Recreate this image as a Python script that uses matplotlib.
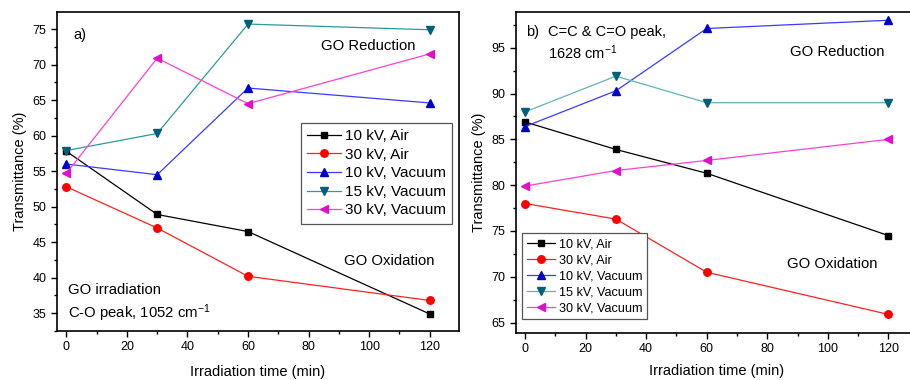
import matplotlib
matplotlib.use("Agg")
import matplotlib.pyplot as plt
from matplotlib.ticker import MultipleLocator

plt.rcParams['font.family'] = ['Liberation Sans', 'DejaVu Sans']
plt.rcParams['mathtext.fontset'] = 'custom'
plt.rcParams['mathtext.rm'] = 'Liberation Sans'
plt.rcParams['mathtext.it'] = 'Liberation Sans'

# ---------------- data ----------------
time = [0, 30, 60, 120]
labels = ["10 kV, Air", "30 kV, Air", "10 kV, Vacuum", "15 kV, Vacuum", "30 kV, Vacuum"]

# panel a) C-O peak 1052 cm-1
a_10kv_air = [57.8, 48.9, 46.5, 34.9]
a_30kv_air = [52.8, 47.0, 40.2, 36.8]
a_10kv_vac = [56.0, 54.5, 66.7, 64.6]
a_15kv_vac = [57.9, 60.3, 75.7, 74.9]
a_30kv_vac = [54.7, 70.9, 64.5, 71.5]

# panel b) C=C & C=O peak 1628 cm-1
b_10kv_air = [86.9, 83.9, 81.3, 74.5]
b_30kv_air = [78.0, 76.3, 70.5, 65.9]
b_10kv_vac = [86.4, 90.3, 97.1, 98.0]
b_15kv_vac = [88.0, 91.9, 89.0, 89.0]
b_30kv_vac = [79.9, 81.6, 82.7, 85.0]

line_colors = ['#000000', '#ff2020', '#3a3aff', '#2a9a9a', '#ff40d0']
marker_colors = ['#000000', '#ff0000', '#0000c8', '#00607a', '#e010c8']
line_colors_b = ['#000000', '#ff2020', '#3a3aff', '#60b4b4', '#ff40d0']
markers = ['s', 'o', '^', 'v', '<']
msizes = [4.8, 5.4, 5.8, 5.8, 5.8]

W, H = 910, 380
fig = plt.figure(figsize=(W / 100, H / 100), dpi=100)

def px_axes(x0, y0, x1, y1):
    return fig.add_axes([x0 / W, 1 - y1 / H, (x1 - x0) / W, (y1 - y0) / H])

axA = px_axes(57, 12, 459, 331)
axB = px_axes(515.7, 12, 917.7, 332.7)

def style(ax, ylim, ymaj, ymin, xpad):
    ax.set_xlim(-3.1, 129.7)
    ax.set_ylim(*ylim)
    ax.xaxis.set_major_locator(MultipleLocator(20))
    ax.xaxis.set_minor_locator(MultipleLocator(10))
    ax.yaxis.set_major_locator(MultipleLocator(ymaj))
    ax.yaxis.set_minor_locator(MultipleLocator(ymin))
    ax.tick_params(which='both', direction='out', top=False, right=False,
                   labelsize=9, width=1.0)
    ax.tick_params(which='major', length=4)
    ax.tick_params(which='minor', length=2.5)
    for s in ax.spines.values():
        s.set_linewidth(1.2)
    ax.set_xlabel("Irradiation time (min)", fontsize=10.5, labelpad=xpad)
    ax.set_ylabel("Transmittance (%)", fontsize=10.5, labelpad=4)

seriesA = [a_10kv_air, a_30kv_air, a_10kv_vac, a_15kv_vac, a_30kv_vac]
seriesB = [b_10kv_air, b_30kv_air, b_10kv_vac, b_15kv_vac, b_30kv_vac]

for i, ys in enumerate(seriesA):
    axA.plot(time, ys, color=line_colors[i], lw=0.9, marker=markers[i],
             ms=msizes[i], mfc=marker_colors[i], mec=marker_colors[i],
             label=labels[i], clip_on=False)
for i, ys in enumerate(seriesB):
    axB.plot(time, ys, color=line_colors_b[i], lw=0.9, marker=markers[i],
             ms=msizes[i], mfc=marker_colors[i], mec=marker_colors[i],
             label=labels[i], clip_on=False)

style(axA, (32.5, 77.4), 5, 2.5, 8)
style(axB, (63.9, 98.9), 5, 2.5, 6.5)

legA = axA.legend(loc='upper left', bbox_to_anchor=(0.607, 0.652), borderaxespad=0,
                  fontsize=11, fancybox=False, framealpha=1, edgecolor='#555555',
                  handlelength=2.2, handletextpad=0.3, labelspacing=0.3,
                  borderpad=0.4)
legA.get_frame().set_linewidth(0.9)
legB = axB.legend(loc='upper left', bbox_to_anchor=(0.0157, 0.311), borderaxespad=0,
                  fontsize=9.1, fancybox=False, framealpha=1, edgecolor='#555555',
                  handlelength=2.2, handletextpad=0.3, labelspacing=0.32,
                  borderpad=0.4)
legB.get_frame().set_linewidth(0.9)

# annotations panel a
axA.text(0.04, 0.928, "a)", transform=axA.transAxes, fontsize=10.5, va='center', ha='left')
axA.text(0.774, 0.893, "GO Reduction", transform=axA.transAxes, fontsize=10.7, va='center', ha='center')
axA.text(0.826, 0.219, "GO Oxidation", transform=axA.transAxes, fontsize=10.7, va='center', ha='center')
axA.text(0.027, 0.129, "GO irradiation", transform=axA.transAxes, fontsize=10.7, va='center', ha='left')
axA.text(0.027, 0.056, "C-O peak, 1052 cm$^{-1}$", transform=axA.transAxes, fontsize=10.7, va='center', ha='left')

# annotations panel b
axB.text(0.026, 0.938, "b)", transform=axB.transAxes, fontsize=10.5, va='center', ha='left')
axB.text(0.080, 0.938, "C=C & C=O peak,", transform=axB.transAxes, fontsize=10.5, va='center', ha='left')
axB.text(0.080, 0.872, "1628 cm$^{-1}$", transform=axB.transAxes, fontsize=10.5, va='center', ha='left')
axB.text(0.80, 0.875, "GO Reduction", transform=axB.transAxes, fontsize=10.7, va='center', ha='center')
axB.text(0.787, 0.214, "GO Oxidation", transform=axB.transAxes, fontsize=10.7, va='center', ha='center')

fig.savefig("out.png", dpi=100)
